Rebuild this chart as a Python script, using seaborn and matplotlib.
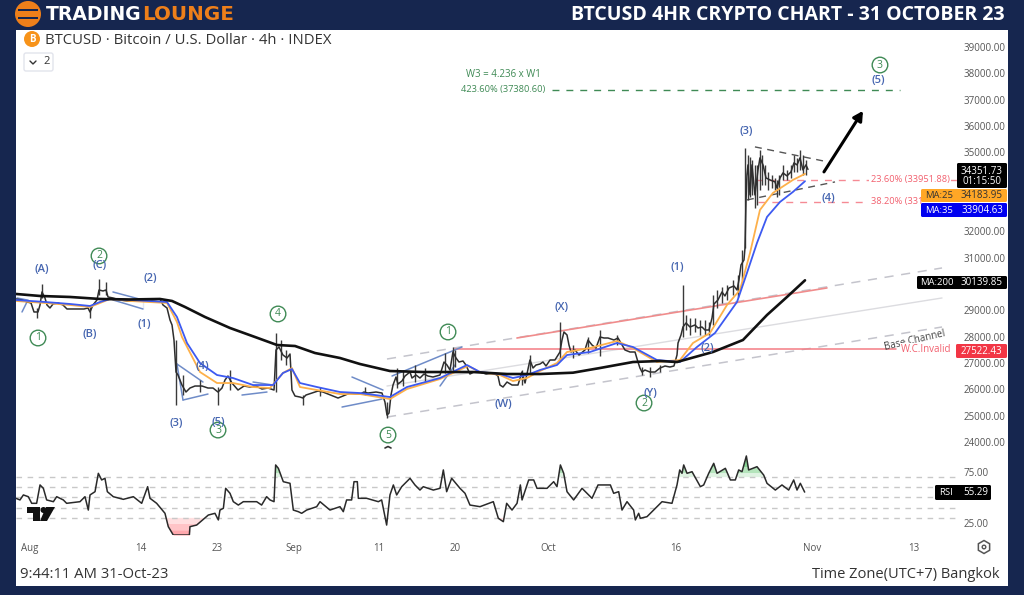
# BTCUSD 4h chart with Elliott wave marks, seaborn version
import matplotlib
matplotlib.use("Agg")
import pandas as pd
import seaborn as sns
import matplotlib.pyplot as plt
from matplotlib.patches import Rectangle, Circle, Polygon, RegularPolygon, FancyBboxPatch
from matplotlib.lines import Line2D
from matplotlib.transforms import Affine2D

# Days counted from 1 Aug 2023, prices in USD
close_day = [-1.65,-0.94,-0.35,0.12,0.47,0.94,1.18,1.41,1.76,2.0,2.35,2.71,3.29,3.88,4.35,4.94,5.65,6.35,6.82,7.06,7.41,7.88,8.12,8.59,8.94,9.18,9.76,10.59,11.41,12.35,13.18,13.76,14.35,15.29,15.65,16.12,16.47,16.71,16.94,17.18,17.41,17.88,18.35,18.82,19.41,20.24,20.94,21.53,22.12,22.59,22.94,23.29,23.76,24.47,25.18,25.88,26.59,27.29,28.0,28.71,28.94,29.29,29.76,30.24,30.59,30.82,31.18,31.76,32.12,32.47,33.18,33.88,34.47,35.06,35.65,36.24,36.82,37.65,38.24,38.82,39.29,39.76,40.71,41.41,41.76,42.0,42.24,42.47,42.71,43.06,43.29,43.76,44.12,44.71,44.94,45.41,45.88,46.35,46.82,47.41,48.24,48.71,49.06,49.41,49.76,50.12,50.47,50.94,51.29,51.76,52.24,52.94,53.65,54.59,55.06,55.29,55.65,56.12,56.71,57.41,57.88,58.24,58.82,59.18,59.53,60.0,60.35,60.71,61.18,61.76,62.35,62.59,62.82,63.18,63.41,63.65,64.12,64.59,65.29,65.65,66.12,66.59,67.06,67.53,68.0,68.71,69.18,69.65,70.0,70.59,71.18,71.53,71.76,72.0,72.35,72.94,73.53,74.12,74.71,75.29,75.76,76.12,76.24,76.59,76.82,77.18,77.65,78.24,78.59,79.06,79.41,79.88,80.24,80.47,80.94,81.41,81.76,82.24,82.82,83.18,83.41,83.65,84.0,84.12,84.24,84.35,84.47,84.71,84.94,85.29,85.65,85.88,86.24,86.59,87.06,87.65,87.88,88.24,88.59,89.06,89.53,89.88,90.24,90.59,90.94,91.29,91.53]
close_price = [29430,29392,29316,29278,28936,28936,29202,29696,29468,29202,29088,29240,29278,29202,29050,29050,29050,29050,29088,28936,29202,29392,29772,29734,29772,29506,29468,29392,29354,29354,29354,29430,29392,29430,29202,29088,28632,28442,27872,26656,26542,26162,25896,26048,26124,26124,26048,26048,25896,26048,26352,26504,26238,25972,26124,26086,26124,26010,26048,25972,27492,27606,27302,27188,27340,25972,25744,25706,25668,25782,25858,25934,25896,25820,25744,25668,25744,25858,25820,25820,25896,25858,25896,25858,25516,25022,25098,25782,26162,26466,26200,26314,26504,26656,26428,26542,26428,26580,26504,26466,26542,27036,26922,26732,27416,27188,27036,27074,26922,26580,26656,26656,26580,26618,26504,26162,26086,26276,26162,26162,26656,26238,27112,26808,26922,26960,27036,26884,27112,27112,27416,27872,28176,28062,27682,27416,27492,27302,27492,27872,27682,27568,27986,27948,27948,27872,27948,27682,27492,27416,27416,27036,26808,26656,26732,26656,26656,26808,26884,26846,26884,27302,27758,28062,28366,28518,28366,28442,28328,28366,28252,28252,28708,29240,29392,29696,29544,29848,29924,29772,30152,30722,30912,31368,33192,34142,34522,33382,34522,33382,34332,34788,34522,34028,33952,33876,33648,34028,34218,34104,34256,34598,34522,34788,34332,34522,34351]

wick_day = [0.82,1.41,7.06,8.12,8.94,17.18,22.12,28.94,32.12,42.0,49.76,58.82,62.35,67.06,76.82,84.12,84.71,85.29,85.88,87.88,90.94,
            84.47,84.94,85.53,86.12,86.47,86.82,87.29,87.65,88.12,88.59,89.06,89.53,89.88,90.24,90.59,91.29,
            77.18,77.65,78.24,78.82,79.41,79.88,80.35,80.82,81.41,82,82.71,83.29,83.76,
            43.18,43.88,45.29,46.47,48.82,50,57.88,65.65,63.88,69.06,72,74.12,72.94,17.99,20,23.53,29.53,30.12,34.12,39.41]
wick_low = [28708,29468,28700,29600,29600,25402,25402,25900,25402,24908,26700,26600,27112,27264,28000,31368,33306,32900,33572,33306,34142,
            33192,33382,33002,33762,33762,33572,33648,33572,33382,33952,33952,34028,34256,34256,34332,34142,
            28252,28062,28176,28062,28062,28062,28442,29088,29278,29392,29582,29506,30152,
            26048,26124,26276,26276,26618,26846,26162,27378,27188,27682,26542,26656,26466,25782,25896,25972,27112,26922,25744,25782]
wick_high = [29100,30000,29200,30190,30076,27872,26100,28138,25800,25500,27606,27302,28556,28252,29962,35168,34826,34522,35092,33952,34902,
             34902,34712,34522,34902,34522,34256,34142,34028,34142,34522,34332,34522,34902,34788,35092,34712,
             28822,28708,28708,28632,28632,28556,29582,29772,29886,29962,30152,30342,31292,
             26808,26732,26922,26808,27378,27492,26732,27986,27682,28062,26846,26922,26846,26542,26352,26732,27872,27492,26086,26086]

ma200_day = [-1.65,1.18,4.71,8.24,11.76,15.29,16.71,18.24,20.59,23.53,26.47,29.06,31.18,33.53,36.47,38.82,42.35,46.24,52.12,56.12,60,63.88,67.06,70.94,74.12,76.12,80.35,83.88,86.71,89.06,91.18]
ma200_price = [29620,29544,29506,29430,29411,29430,29354,29126,28746,28328,27986,27682,27644,27378,27188,26960,26694,26656,26656,26580,26580,26630,26808,27036,27074,27036,27416,27872,28822,29506,30139]

ma35_day = [-1.65,1.76,4.71,7.06,8.24,9.41,11.76,16.12,17.29,18.47,20.0,22.0,23.88,26.24,28.59,29.76,30.82,31.76,33.76,36.47,38.82,42.35,44.35,48.24,51.41,52.94,55.29,56.82,58.47,60,62,63.18,65.88,69.06,70.94,73.76,76.47,78.47,80.59,83.18,84.35,85.53,86.71,88.24,89.76,91.18]
ma35_price = [29392,29316,29240,29164,29316,29430,29392,29316,28746,27758,26998,26542,26428,26162,26162,26618,26770,26238,26086,25896,25858,25706,26086,26428,26922,26656,26580,26428,26542,26732,26922,27302,27416,27758,27606,27112,27036,27606,28138,29316,30418,31558,32546,33116,33496,33904]

ma25_day = [-1.65,1.76,4.71,7.06,8.24,9.41,11.76,16.12,17.29,17.88,20,22,23.88,26.24,28.24,29.76,30.82,31.76,33.76,36.47,38.82,42.35,44.35,48.24,51.53,52.94,55.29,56.82,58.47,60,62,63.18,65.88,69.06,70.94,73.76,76.47,78,80,82,83.53,84.71,85.88,87.41,89.76,91.18]
ma25_price = [29354,29278,29202,29126,29278,29430,29354,29278,28556,27986,26656,26238,26238,26086,26048,26618,26808,26086,25972,25820,25820,25630,26010,26390,26884,26656,26542,26314,26428,26694,26998,27416,27568,27834,27568,27036,27112,27758,28138,29202,29772,31178,32812,33458,33952,34183]

rsi_day = [-1.65,-1.18,-0.78,-0.2,0.2,0.78,1.18,1.57,1.96,2.75,3.14,3.92,4.31,5.88,6.47,6.86,7.06,7.65,8.04,8.43,8.82,9.1,9.8,10.98,12.16,13.14,13.84,14.12,14.9,15.88,16.27,16.86,18.75,18.82,19.61,20.98,21.76,22.16,22.35,22.75,23.02,23.53,23.92,24.51,25.1,26.67,27.25,27.84,28.24,28.71,28.9,29.22,29.8,30.59,30.98,31.57,31.96,32.55,33.73,34.12,35.29,36.47,36.86,37.25,37.84,38.12,38.51,38.63,39.61,40.98,41.37,41.96,42.35,42.75,43.14,43.73,44.71,45.29,45.88,46.27,47.45,48.24,48.63,49.02,49.61,50.59,51.18,51.76,52.94,54.51,55.1,55.69,56.08,56.71,57.3,57.69,57.89,58.67,59.26,59.65,60.83,61.61,62,62.4,62.79,63.18,63.96,64.95,65.34,66.12,66.83,68.28,68.67,69.26,69.65,70.24,71.02,71.22,71.61,71.81,72.59,73.57,74.36,75.53,76.12,76.44,76.71,76.91,77.3,77.89,78.87,79.26,79.85,80.44,80.83,81.81,82.4,82.98,83.38,83.77,84.28,84.55,85.53,86.32,86.71,87.69,88.47,89.26,89.85,90.24,90.63,91.14]
rsi_value = [49.2,47.6,52.5,50.8,44.3,44.3,62.3,59.0,47.6,45.9,50.8,47.6,44.3,45.9,50.8,37.7,52.5,55.7,73.7,67.2,68.8,55.7,50.8,48.2,50.8,44.3,60.6,49.2,44.3,34.5,21.4,13.2,13.2,21.4,23.0,32.8,34.5,28,37.7,39.4,59,54.1,45.9,42.6,45.9,45.9,42.6,50.8,47.6,45.9,81.9,78.6,65.5,63.9,37.7,36.1,34.5,37.7,41.0,45.9,37.7,41,36.1,47.6,47.6,65.5,65.5,49.2,49.2,45.9,47.6,23,52.5,62.3,52.5,60.6,68.8,62.3,57.3,60.6,57.3,59,77,55.7,68.8,59,54.1,42.6,41,45.9,29.6,26.3,44.3,37.7,44.3,62.3,47.6,67.2,67.2,59,59,65.5,60.6,81.9,73.7,55.7,47.6,59,55.7,49.2,62.3,62.3,54.1,55.7,37.7,45.9,37.7,28,34.5,29.6,31.2,39.4,45.9,44.3,62.3,77,73.7,81.9,73.7,75.3,60.6,62.3,73.7,83.5,73.7,78.6,67.2,67.2,77,75.3,90.7,77,80.2,72,63.9,57.3,62.3,57.3,67.2,57.3,63.9,55.29]

# Wave counts: text, day, price
blue_labels = ["(A)","(B)","(C)","(2)","(1)","(3)","(4)","(5)","(W)","(X)","(Y)","(1)","(2)","(3)","(4)","(5)"]
blue_days = [1.41,7.06,8.24,14.12,13.41,17.18,20.24,22.12,55.65,62.59,72.94,76.12,79.65,84.24,93.88,99.76]
blue_prices = [30532,28062,30684,30190,28442,24718,26884,24756,25440,29088,25858,30608,27568,35776,33230,37746]
green_labels = ["1","2","3","4","5","1","2","3"]
green_days = [0.94,8.12,22.12,29.18,42.12,49.18,72.24,100]
green_prices = [27948,31064,24452,28860,24262,28176,25478,38316]

# Trend segments: day0, price0, day1, price1
blue_segments = [(9.76,29696,13.29,29392),(9.76,29392,13.29,29050),(13.29,29392,13.29,29050),
                 (17.29,26960,20.35,26276),(18,25592,20.94,25820),(17.29,26960,18,25592),
                 (24.94,25782,27.88,25896),(26.24,26276,28.59,26162),
                 (-1.53,29468,-0.35,29392),(-0.94,28936,-0.24,29392),
                 (37.88,26466,41.53,25972),(36.71,25326,41.41,25630),
                 (42.59,26504,50.82,27606),(48.24,26124,50,26922)]
channel_days = [42, 107.3]
channel_top = [27150, 30608]
channel_mid = [26124, 29468]
channel_low = [24946, 28366]
red_channel_days = [57.29, 93.76]
red_channel_prices = [27948, 29848]
wedge_top_days = [85.29, 93.88]
wedge_top_prices = [35206, 34636]
wedge_low_days = [84.35, 94.71]
wedge_low_prices = [33192, 33876]

# 30000, 33000 and 34000 sit behind the price tags in the picture
price_ticks = [24000,25000,26000,27000,28000,29000,31000,32000,35000,36000,37000,38000,39000]
date_ticks = [0,13,22,31,41,50,61,76,92,104]
date_labels = ["Aug","14","23","Sep","11","20","Oct","16","Nov","13"]
rsi_levels = [70,60,50,40,30]

NAVY = "#16264f"
BLUE = "#4565b0"
GREEN = "#3f8a55"
RED = "#f2606e"
W, H = 1024, 595

sns.set_style("white")
plt.rcParams["font.family"] = ["Open Sans", "DejaVu Sans"]

fig = plt.figure(figsize=(W / 100, H / 100), dpi=100, facecolor=NAVY)
px = Affine2D().scale(1 / W, -1 / H).translate(0, 1) + fig.transFigure


def pane(x0, y0, x1, y1):
    return fig.add_axes([x0 / W, 1 - y1 / H, (x1 - x0) / W, (y1 - y0) / H], facecolor="none", zorder=3)


def fig_text(x, y, s, **kw):
    kw.setdefault("va", "center")
    return fig.text(x / W, 1 - y / H, s, **kw)


def tag(x0, y0, x1, y1, color):
    fig.add_artist(FancyBboxPatch((x0, y0), x1 - x0, y1 - y0, boxstyle="round,pad=0,rounding_size=1.5",
                                  fc=color, ec="none", transform=px, zorder=10))


fig.add_artist(Rectangle((16, 30), 992, 556, fc="white", ec="none", transform=px, zorder=0))

ax = pane(16, 30, 958, 450)
rsi_ax = pane(16, 452, 958, 535)
for a in (ax, rsi_ax):
    a.set_xlim(-1.647, 109.18)
    sns.despine(ax=a, left=True, bottom=True)
    a.yaxis.tick_right()
    a.tick_params(axis="both", length=0, labelsize=7, labelcolor="#555555", pad=4)
ax.set_ylim(23694, 39646)
ax.set_yticks(price_ticks, [f"{t:.2f}" for t in price_ticks])
ax.set_xticks([])
ax.set_xlabel("")

# channels and trend lines
sns.lineplot(x=channel_days, y=channel_top, ax=ax, color="#c4c4cc", lw=1.1, ls=(0, (6, 5)))
sns.lineplot(x=channel_days, y=channel_mid, ax=ax, color="#dcdce0", lw=1.0)
sns.lineplot(x=channel_days, y=channel_low, ax=ax, color="#c4c4cc", lw=1.1, ls=(0, (6, 5)))
sns.lineplot(x=red_channel_days, y=red_channel_prices, ax=ax, color="#f08c8c", lw=1.2)
sns.lineplot(x=[50, 101.88], y=[27522.43, 27522.43], ax=ax, color="#f47c84", lw=1.1)
sns.lineplot(x=[61.4, 102.35], y=[37380.6, 37380.6], ax=ax, color=GREEN, lw=1.0, ls=(0, (5, 5)))
sns.lineplot(x=[85.29, 109.18], y=[33951.88, 33951.88], ax=ax, color="#f58a94", lw=1.0, ls=(0, (5, 5)))
sns.lineplot(x=[85.65, 98.6], y=[33116, 33116], ax=ax, color="#f58a94", lw=1.0, ls=(0, (5, 5)))
sns.lineplot(x=wedge_top_days, y=wedge_top_prices, ax=ax, color="#555555", lw=1.0, ls=(0, (5, 4)))
sns.lineplot(x=wedge_low_days, y=wedge_low_prices, ax=ax, color="#555555", lw=1.0, ls=(0, (5, 4)))
for d0, p0, d1, p1 in blue_segments:
    sns.lineplot(x=[d0, d1], y=[p0, p1], ax=ax, color="#6f8cc8", lw=1.1)

# price and moving averages
ax.vlines(wick_day, wick_low, wick_high, color="#3a3a3a", lw=1.0)
sns.lineplot(x=close_day, y=close_price, ax=ax, color="#2e2e2e", lw=1.1, sort=False, estimator=None)
sns.lineplot(x=ma25_day, y=ma25_price, ax=ax, color="#fdb04a", lw=1.3, sort=False, estimator=None)
sns.lineplot(x=ma35_day, y=ma35_price, ax=ax, color="#3d5af1", lw=1.3, sort=False, estimator=None)
sns.lineplot(x=ma200_day, y=ma200_price, ax=ax, color="#111111", lw=1.9, sort=False, estimator=None)

for s, d, p in zip(green_labels, green_days, green_prices):
    ax.text(d, p, s, color=GREEN, fontsize=7.5, ha="center", va="center",
            bbox=dict(boxstyle="circle,pad=0.22", fc="white", ec=GREEN, lw=1.0))
for s, d, p in zip(blue_labels, blue_days, blue_prices):
    ax.text(d, p, s, color=BLUE, fontsize=8, ha="center", va="center", fontweight="semibold")

ax.annotate("", xy=(98, 36574), xytext=(93.41, 34256),
            arrowprops=dict(arrowstyle="-|>,head_width=0.3,head_length=0.55", color="black", lw=2.2, shrinkA=0, shrinkB=0))
ax.text(55.65, 37974, "W3 = 4.236 x W1", color=GREEN, fontsize=7, ha="center", va="center")
ax.text(60.6, 37380, "423.60% (37380.60)", color=GREEN, fontsize=6.7, ha="right", va="center")
ax.text(98.9, 33951, "23.60% (33951.88)", color=RED, fontsize=6.7, ha="left", va="center",
        bbox=dict(fc="white", ec="none", pad=1))
ax.text(99.0, 33116, "38.20% (331", color=RED, fontsize=6.7, ha="left", va="center")
ax.text(104.1, 27834, "Base Channel", color="#444444", fontsize=7, ha="center", va="center", rotation=13)
ax.text(105.4, 27522, "W.C.Invalid", color=RED, fontsize=7, ha="center", va="center",
        bbox=dict(fc="white", ec="none", pad=0.5))

# RSI pane
rsi_ax.set_ylim(13.24, 94.6)
rsi_ax.set_yticks([25, 75], ["25.00", "75.00"])
rsi_ax.set_xticks(date_ticks, date_labels)
rsi_ax.tick_params(axis="x", pad=6, labelsize=7)
for level in rsi_levels:
    rsi_ax.axhline(level, color="#c8c8c8", lw=1.0, ls=(0, (4, 4)))
# stepped fills stand in for the gradient of the overbought and oversold zones
for limit, shade in [(30, "#ffdfe0"), (24, "#ffc4c7"), (18, "#ffa8ad")]:
    rsi_ax.fill_between(rsi_day, rsi_value, limit, where=[v < limit for v in rsi_value], interpolate=True, color=shade, lw=0)
for limit, shade in [(70, "#dff3e2"), (74, "#b4e4bb"), (80, "#86d293")]:
    rsi_ax.fill_between(rsi_day, rsi_value, limit, where=[v > limit for v in rsi_value], interpolate=True, color=shade, lw=0)
rsi_df = pd.DataFrame({"day": rsi_day, "rsi": rsi_value})
sns.lineplot(data=rsi_df, x="day", y="rsi", ax=rsi_ax, color="#2a2a2a", lw=1.1, sort=False, estimator=None)
rsi_ax.set_xlabel("")
rsi_ax.set_ylabel("")

# header
fig.add_artist(Circle((28, 14), 13, fc="#ee7f1a", ec="none", transform=px, zorder=5))
for yy in (10, 18):
    fig.add_artist(Rectangle((18, yy - 1), 20, 2, fc=NAVY, ec="none", transform=px, zorder=6))
fig_text(46, 14.5, "TRADING", color="white", fontsize=13.5, fontweight="bold", family="DejaVu Sans")
fig_text(142, 14.5, "LOUNGE", color="#ee7f1a", fontsize=14.3, fontweight="bold", family="DejaVu Sans")
fig_text(1005, 15, "BTCUSD 4HR CRYPTO CHART - 31 OCTOBER 23", color="white", fontsize=14, fontweight="bold", ha="right")

# symbol line and chips
fig.add_artist(Circle((32, 39), 8, fc="#f7931a", ec="none", transform=px, zorder=5))
fig_text(32, 39, "B", color="white", fontsize=7, fontweight="bold", ha="center", zorder=6)
fig_text(45, 40, "BTCUSD · Bitcoin / U.S. Dollar · 4h · INDEX", color="#333333", fontsize=10.75)
fig.add_artist(FancyBboxPatch((24, 53), 29, 18, boxstyle="round,pad=0,rounding_size=2", fc="white", ec="#e2e4ec",
                              lw=1, transform=px, zorder=5))
fig.add_artist(Line2D([30, 33, 36], [61, 64, 61], color="#333333", lw=1, transform=px, zorder=6))
fig_text(43, 62, "2", color="#333333", fontsize=8, ha="left", zorder=6)

# clipped label remnant under the circled 5
fig.add_artist(Line2D([385, 388, 391], [448, 446.5, 448], color="#333333", lw=1.2, transform=px, zorder=6))

# price tags on the right
tag(957, 163, 1007, 188, "#000000")
fig_text(982, 171, "34351.73", color="white", fontsize=7, ha="center", zorder=11)
fig_text(982, 182, "01:15:50", color="white", fontsize=7, ha="center", zorder=11)
tag(921, 189, 1007, 202, "#ffa726")
fig_text(925, 195.5, "MA:25", color="#333333", fontsize=6.8, zorder=11)
fig_text(1003, 195.5, "34183.95", color="#333333", fontsize=7, ha="right", zorder=11)
tag(921, 203, 1007, 217, "#0000f0")
fig_text(925, 210, "MA:35", color="white", fontsize=6.8, zorder=11)
fig_text(1003, 210, "33904.63", color="white", fontsize=7, ha="right", zorder=11)
tag(917, 276, 1007, 289, "#000000")
fig_text(920, 282.5, "MA:200", color="white", fontsize=6.8, zorder=11)
fig_text(1003, 282.5, "30139.85", color="white", fontsize=7, ha="right", zorder=11)
tag(956, 344, 1007, 358, "#f23645")
fig_text(981.5, 351, "27522.43", color="white", fontsize=7, ha="center", zorder=11)
tag(935, 485, 991, 500, "#000000")
fig_text(939, 492.5, "RSI", color="white", fontsize=6.8, zorder=11)
fig_text(988, 492.5, "55.29", color="white", fontsize=7, ha="right", zorder=11)

# TradingView mark and settings hexagon
for pts in ([(27, 507), (40, 507), (40, 521), (33, 521), (33, 513), (27, 513)], [(46, 507), (55, 507), (47, 521), (40, 521)]):
    fig.add_artist(Polygon(pts, closed=True, fc="#111111", ec="none", transform=px, zorder=6))
fig.add_artist(Circle((43.5, 510), 3, fc="#111111", ec="none", transform=px, zorder=6))
fig.add_artist(RegularPolygon((984, 547), 6, radius=6.5, fc="white", ec="#555555", lw=1.1, transform=px, zorder=6))
fig.add_artist(Circle((984, 547), 1.8, fc="white", ec="#555555", lw=1.0, transform=px, zorder=7))

# footer
fig_text(20, 574.5, "9:44:11 AM 31-Oct-23", color="#333333", fontsize=10.7)
fig_text(1000, 574.5, "Time Zone(UTC+7) Bangkok", color="#333333", fontsize=10.5, ha="right")

fig.savefig("out.png", dpi=100, facecolor=NAVY)
